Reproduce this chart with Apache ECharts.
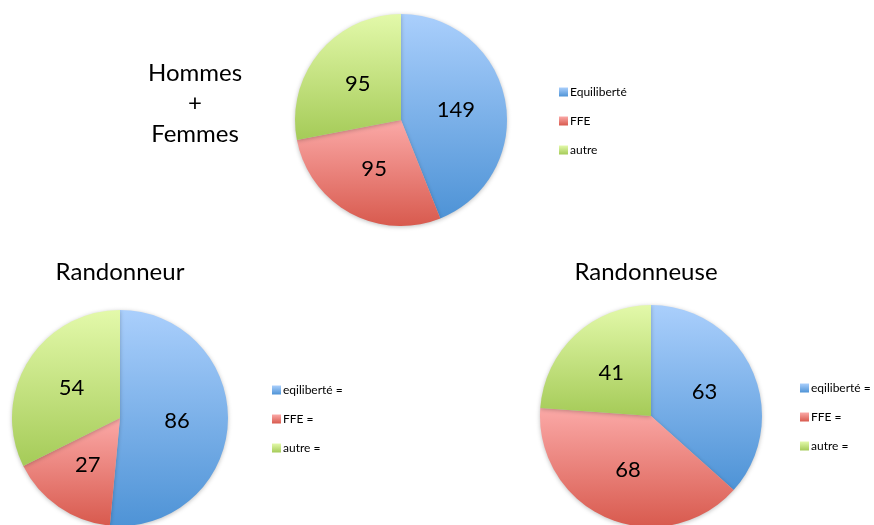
<!DOCTYPE html>
<html>
<head>
<meta charset="utf-8">
<script src="https://cdn.jsdelivr.net/npm/echarts@6/dist/echarts.min.js"></script>
<style>
  html, body { margin: 0; padding: 0; background: #fff; }
  #chart { width: 874px; height: 525px; }
</style>
</head>
<body>
<div id="chart"></div>
<script>
// data
const namesAll = ['Equiliberté', 'FFE', 'autre']
const valuesAll = [149, 95, 95]
const namesHomme = ['eqiliberté = ', 'FFE = ', 'autre = ']
const valuesHomme = [86, 27, 54]
const namesFemme = ['eqiliberté =', 'FFE =', 'autre =']
const valuesFemme = [63, 68, 41]

const font = 'Lato, "Open Sans", sans-serif'

// top light -> bottom dark, like the office theme
const grad = (a, b) => new echarts.graphic.LinearGradient(0, 0, 0, 1, [
  { offset: 0, color: a },
  { offset: 1, color: b }
])
const colors = [
  ['#aacffc', '#4e93d6'],
  ['#fba9a7', '#d85a4e'],
  ['#e3f9aa', '#a5cb58']
]

function toData(names, values) {
  return names.map((n, i) => ({
    name: n,
    value: values[i],
    itemStyle: { color: grad(colors[i][0], colors[i][1]) }
  }))
}

function pie(names, values, center, radius) {
  return {
    type: 'pie',
    center: center,
    radius: radius,
    startAngle: 90,
    clockwise: true,
    silent: true,
    animation: false,
    label: {
      show: true,
      position: 'inside',
      formatter: '{c}',
      color: '#000',
      fontSize: 22,
      fontFamily: font
    },
    labelLine: { show: false },
    itemStyle: {
      shadowBlur: 4,
      shadowColor: 'rgba(0,0,0,0.25)',
      shadowOffsetY: 1
    },
    data: toData(names, values)
  }
}

function legend(names, left, top) {
  return {
    orient: 'vertical',
    left: left,
    top: top,
    data: names,
    icon: 'rect',
    itemWidth: 9,
    itemHeight: 9,
    itemGap: 17,
    selectedMode: false,
    textStyle: { fontSize: 12, color: '#000', fontFamily: font, padding: [0, 0, 0, -3] }
  }
}

const titleStyle = { fontSize: 24, fontWeight: 'normal', color: '#000', fontFamily: font }

const chart = echarts.init(document.getElementById('chart'))
chart.setOption({
  backgroundColor: '#fff',
  title: [
    { text: 'Hommes\n+\nFemmes', left: 190, top: 53, textAlign: 'center',
      textStyle: Object.assign({ lineHeight: 30.5 }, titleStyle) },
    { text: 'Randonneur', left: 115, top: 255, textAlign: 'center', textStyle: titleStyle },
    { text: 'Randonneuse', left: 641, top: 255, textAlign: 'center', textStyle: titleStyle }
  ],
  legend: [
    legend(namesAll, 554, 81),
    legend(namesHomme, 267, 379),
    legend(namesFemme, 795, 377)
  ],
  series: [
    pie(namesAll, valuesAll, [401, 120], 106),
    pie(namesHomme, valuesHomme, [120, 418], 108),
    pie(namesFemme, valuesFemme, [651, 416], 111)
  ]
})
</script>
</body>
</html>
